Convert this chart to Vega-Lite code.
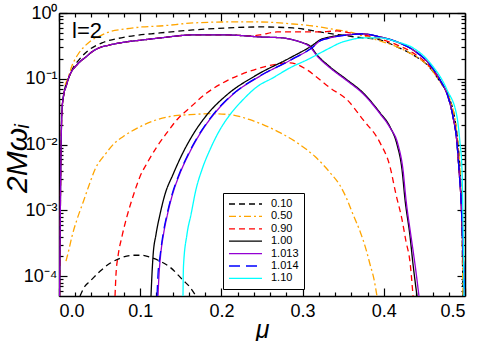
{
  "$schema": "https://vega.github.io/schema/vega-lite/v6.json",
  "width": 406,
  "height": 283,
  "autosize": {"type": "none"},
  "padding": {"left": 59, "top": 13, "right": 15, "bottom": 45},
  "background": "white",
  "config": {
    "view": {"stroke": null},
    "font": "Liberation Sans",
    "axis": {"grid": false, "domainColor": "black", "tickColor": "black", "domainWidth": 1.5, "tickWidth": 1.2, "labelColor": "black", "titleColor": "black", "labelFont": "Liberation Sans", "titleFont": "Liberation Sans"},
    "legend": {"orient": "none", "legendX": 164, "legendY": 180, "symbolType": "M-1,0H5.6", "symbolSize": 100, "labelFontSize": 11, "labelFont": "Liberation Sans", "labelColor": "black", "strokeColor": "black", "fillColor": "white", "padding": 5, "rowPadding": 1.4, "labelOffset": 31, "symbolFillColor": "transparent"}
  },
  "datasets": {
    "curves": [
      {"s":"0.10","b":"a","mu":0.0049,"w":0.0481},{"s":"0.10","b":"a","mu":0.0074,"w":0.073},{"s":"0.10","b":"a","mu":0.0111,"w":0.0965},{"s":"0.10","b":"a","mu":0.016,"w":0.1369},{"s":"0.10","b":"a","mu":0.0246,"w":0.194},{"s":"0.10","b":"a","mu":0.0369,"w":0.275},{"s":"0.10","b":"a","mu":0.053,"w":0.3511},{"s":"0.10","b":"a","mu":0.0825,"w":0.4329},{"s":"0.10","b":"a","mu":0.1244,"w":0.4977},{"s":"0.10","b":"a","mu":0.165,"w":0.5525},{"s":"0.10","b":"a","mu":0.2069,"w":0.5925},{"s":"0.10","b":"a","mu":0.2475,"w":0.6136},{"s":"0.10","b":"a","mu":0.2882,"w":0.5925},{"s":"0.10","b":"a","mu":0.3214,"w":0.5153},{"s":"0.10","b":"a","mu":0.3461,"w":0.4642},{"s":"0.10","b":"a","mu":0.3744,"w":0.418},{"s":"0.10","b":"a","mu":0.3953,"w":0.3899},{"s":"0.10","b":"a","mu":0.4163,"w":0.3053},{"s":"0.10","b":"a","mu":0.436,"w":0.231},{"s":"0.10","b":"a","mu":0.4569,"w":0.1468},{"s":"0.10","b":"a","mu":0.4692,"w":0.0901},{"s":"0.10","b":"a","mu":0.4815,"w":0.0481},{"s":"0.10","b":"a","mu":0.4877,"w":0.0239},{"s":"0.10","b":"a","mu":0.4914,"w":0.01},{"s":"0.10","b":"a","mu":0.4938,"w":0.00418},{"s":"0.10","b":"a","mu":0.4963,"w":0.000515},{"s":"0.10","b":"a","mu":0.4975,"w":0.00005},
      {"s":"0.10","b":"b","mu":0.0259,"w":0.00005},{"s":"0.10","b":"b","mu":0.032,"w":0.0000706},{"s":"0.10","b":"b","mu":0.0382,"w":0.000084},{"s":"0.10","b":"b","mu":0.0505,"w":0.000119},{"s":"0.10","b":"b","mu":0.0628,"w":0.000157},{"s":"0.10","b":"b","mu":0.0751,"w":0.000187},{"s":"0.10","b":"b","mu":0.0911,"w":0.000208},{"s":"0.10","b":"b","mu":0.1022,"w":0.000208},{"s":"0.10","b":"b","mu":0.1121,"w":0.000194},{"s":"0.10","b":"b","mu":0.1244,"w":0.000169},{"s":"0.10","b":"b","mu":0.1367,"w":0.000137},{"s":"0.10","b":"b","mu":0.1527,"w":0.000087},{"s":"0.10","b":"b","mu":0.1613,"w":0.0000681},{"s":"0.10","b":"b","mu":0.1687,"w":0.00005},
      {"s":"0.50","b":"a","mu":0.0074,"w":0.0811},{"s":"0.50","b":"a","mu":0.0111,"w":0.1035},{"s":"0.50","b":"a","mu":0.016,"w":0.1574},{"s":"0.50","b":"a","mu":0.0246,"w":0.2477},{"s":"0.50","b":"a","mu":0.0333,"w":0.3274},{"s":"0.50","b":"a","mu":0.0406,"w":0.3899},{"s":"0.50","b":"a","mu":0.0505,"w":0.4482},{"s":"0.50","b":"a","mu":0.0616,"w":0.5153},{"s":"0.50","b":"a","mu":0.0813,"w":0.572},{"s":"0.50","b":"a","mu":0.1022,"w":0.6136},{"s":"0.50","b":"a","mu":0.1244,"w":0.635},{"s":"0.50","b":"a","mu":0.165,"w":0.7055},{"s":"0.50","b":"a","mu":0.2069,"w":0.7305},{"s":"0.50","b":"a","mu":0.2475,"w":0.7305},{"s":"0.50","b":"a","mu":0.2882,"w":0.681},{"s":"0.50","b":"a","mu":0.3214,"w":0.6136},{"s":"0.50","b":"a","mu":0.3424,"w":0.5525},{"s":"0.50","b":"a","mu":0.3584,"w":0.5153},{"s":"0.50","b":"a","mu":0.3744,"w":0.4482},{"s":"0.50","b":"a","mu":0.3953,"w":0.3765},{"s":"0.50","b":"a","mu":0.4163,"w":0.3053},{"s":"0.50","b":"a","mu":0.436,"w":0.231},{"s":"0.50","b":"a","mu":0.4569,"w":0.1468},{"s":"0.50","b":"a","mu":0.4692,"w":0.0901},{"s":"0.50","b":"a","mu":0.4815,"w":0.0481},{"s":"0.50","b":"a","mu":0.4877,"w":0.0239},{"s":"0.50","b":"a","mu":0.4914,"w":0.01},{"s":"0.50","b":"a","mu":0.4938,"w":0.00418},{"s":"0.50","b":"a","mu":0.4963,"w":0.000515},{"s":"0.50","b":"a","mu":0.4975,"w":0.00005},
      {"s":"0.50","b":"b","mu":0.0086,"w":0.000169},{"s":"0.50","b":"b","mu":0.0123,"w":0.000256},{"s":"0.50","b":"b","mu":0.016,"w":0.000404},{"s":"0.50","b":"b","mu":0.0222,"w":0.00073},{"s":"0.50","b":"b","mu":0.0296,"w":0.00132},{"s":"0.50","b":"b","mu":0.0369,"w":0.00239},{"s":"0.50","b":"b","mu":0.0443,"w":0.00418},{"s":"0.50","b":"b","mu":0.0567,"w":0.00706},{"s":"0.50","b":"b","mu":0.069,"w":0.0107},{"s":"0.50","b":"b","mu":0.0788,"w":0.0132},{"s":"0.50","b":"b","mu":0.0998,"w":0.0187},{"s":"0.50","b":"b","mu":0.1207,"w":0.0239},{"s":"0.50","b":"b","mu":0.1429,"w":0.0275},{"s":"0.50","b":"b","mu":0.1613,"w":0.0285},{"s":"0.50","b":"b","mu":0.186,"w":0.0295},{"s":"0.50","b":"b","mu":0.2106,"w":0.0285},{"s":"0.50","b":"b","mu":0.2352,"w":0.0239},{"s":"0.50","b":"b","mu":0.2512,"w":0.0201},{"s":"0.50","b":"b","mu":0.2722,"w":0.0152},{"s":"0.50","b":"b","mu":0.2931,"w":0.0107},{"s":"0.50","b":"b","mu":0.3153,"w":0.00658},{"s":"0.50","b":"b","mu":0.3337,"w":0.00377},{"s":"0.50","b":"b","mu":0.3461,"w":0.00239},{"s":"0.50","b":"b","mu":0.3547,"w":0.00147},{"s":"0.50","b":"b","mu":0.3621,"w":0.00087},{"s":"0.50","b":"b","mu":0.3707,"w":0.000481},{"s":"0.50","b":"b","mu":0.3781,"w":0.000256},{"s":"0.50","b":"b","mu":0.383,"w":0.000152},{"s":"0.50","b":"b","mu":0.3879,"w":0.0000901},{"s":"0.50","b":"b","mu":0.3916,"w":0.00005},
      {"s":"0.90","b":"a","mu":0.0007,"w":0.00005},{"s":"0.90","b":"a","mu":0.0012,"w":0.000256},{"s":"0.90","b":"a","mu":0.0018,"w":0.00147},{"s":"0.90","b":"a","mu":0.0025,"w":0.0084},{"s":"0.90","b":"a","mu":0.0031,"w":0.0201},{"s":"0.90","b":"a","mu":0.0037,"w":0.0339},{"s":"0.90","b":"a","mu":0.0049,"w":0.0481},{"s":"0.90","b":"a","mu":0.0062,"w":0.0614},{"s":"0.90","b":"a","mu":0.0086,"w":0.0756},{"s":"0.90","b":"a","mu":0.0123,"w":0.1072},{"s":"0.90","b":"a","mu":0.016,"w":0.1322},{"s":"0.90","b":"a","mu":0.0209,"w":0.1574},{"s":"0.90","b":"a","mu":0.0271,"w":0.1874},{"s":"0.90","b":"a","mu":0.0333,"w":0.2154},{"s":"0.90","b":"a","mu":0.0406,"w":0.2565},{"s":"0.90","b":"a","mu":0.0493,"w":0.2949},{"s":"0.90","b":"a","mu":0.0628,"w":0.3274},{"s":"0.90","b":"a","mu":0.0825,"w":0.3636},{"s":"0.90","b":"a","mu":0.1034,"w":0.3899},{"s":"0.90","b":"a","mu":0.1244,"w":0.418},{"s":"0.90","b":"a","mu":0.165,"w":0.4642},{"s":"0.90","b":"a","mu":0.2069,"w":0.4642},{"s":"0.90","b":"a","mu":0.2352,"w":0.4482},{"s":"0.90","b":"a","mu":0.2475,"w":0.4642},{"s":"0.90","b":"a","mu":0.2685,"w":0.5153},{"s":"0.90","b":"a","mu":0.2968,"w":0.5153},{"s":"0.90","b":"a","mu":0.3214,"w":0.5153},{"s":"0.90","b":"a","mu":0.3424,"w":0.5336},{"s":"0.90","b":"a","mu":0.3584,"w":0.4977},{"s":"0.90","b":"a","mu":0.3744,"w":0.4642},{"s":"0.90","b":"a","mu":0.3953,"w":0.4037},{"s":"0.90","b":"a","mu":0.4163,"w":0.3274},{"s":"0.90","b":"a","mu":0.436,"w":0.2477},{"s":"0.90","b":"a","mu":0.4569,"w":0.152},{"s":"0.90","b":"a","mu":0.4692,"w":0.0933},{"s":"0.90","b":"a","mu":0.4791,"w":0.0534},{"s":"0.90","b":"a","mu":0.4852,"w":0.0266},{"s":"0.90","b":"a","mu":0.4901,"w":0.0107},{"s":"0.90","b":"a","mu":0.4926,"w":0.00418},{"s":"0.90","b":"a","mu":0.4951,"w":0.00147},{"s":"0.90","b":"a","mu":0.4975,"w":0.000256},{"s":"0.90","b":"a","mu":0.4988,"w":0.00005},
      {"s":"0.90","b":"b","mu":0.069,"w":0.00005},{"s":"0.90","b":"b","mu":0.0702,"w":0.000107},{"s":"0.90","b":"b","mu":0.0727,"w":0.000201},{"s":"0.90","b":"b","mu":0.0776,"w":0.000404},{"s":"0.90","b":"b","mu":0.0837,"w":0.00081},{"s":"0.90","b":"b","mu":0.0911,"w":0.00163},{"s":"0.90","b":"b","mu":0.0998,"w":0.00327},{"s":"0.90","b":"b","mu":0.1096,"w":0.00553},{"s":"0.90","b":"b","mu":0.1207,"w":0.00933},{"s":"0.90","b":"b","mu":0.133,"w":0.0152},{"s":"0.90","b":"b","mu":0.1453,"w":0.0239},{"s":"0.90","b":"b","mu":0.1613,"w":0.0364},{"s":"0.90","b":"b","mu":0.1823,"w":0.0614},{"s":"0.90","b":"b","mu":0.202,"w":0.087},{"s":"0.90","b":"b","mu":0.2229,"w":0.115},{"s":"0.90","b":"b","mu":0.2438,"w":0.1418},{"s":"0.90","b":"b","mu":0.2635,"w":0.163},{"s":"0.90","b":"b","mu":0.2845,"w":0.1748},{"s":"0.90","b":"b","mu":0.3054,"w":0.1369},{"s":"0.90","b":"b","mu":0.3214,"w":0.0965},{"s":"0.90","b":"b","mu":0.3337,"w":0.073},{"s":"0.90","b":"b","mu":0.3547,"w":0.0481},{"s":"0.90","b":"b","mu":0.3744,"w":0.0239},{"s":"0.90","b":"b","mu":0.3953,"w":0.0107},{"s":"0.90","b":"b","mu":0.4076,"w":0.00464},{"s":"0.90","b":"b","mu":0.415,"w":0.00175},{"s":"0.90","b":"b","mu":0.4224,"w":0.00073},{"s":"0.90","b":"b","mu":0.4273,"w":0.000339},{"s":"0.90","b":"b","mu":0.4323,"w":0.000163},{"s":"0.90","b":"b","mu":0.436,"w":0.00005},
      {"s":"1.00","b":"a","mu":0.0007,"w":0.00005},{"s":"1.00","b":"a","mu":0.0012,"w":0.000256},{"s":"1.00","b":"a","mu":0.0018,"w":0.00147},{"s":"1.00","b":"a","mu":0.0025,"w":0.0084},{"s":"1.00","b":"a","mu":0.0031,"w":0.0201},{"s":"1.00","b":"a","mu":0.0037,"w":0.0339},{"s":"1.00","b":"a","mu":0.0049,"w":0.0481},{"s":"1.00","b":"a","mu":0.0062,"w":0.0614},{"s":"1.00","b":"a","mu":0.0086,"w":0.0756},{"s":"1.00","b":"a","mu":0.0123,"w":0.1072},{"s":"1.00","b":"a","mu":0.016,"w":0.1322},{"s":"1.00","b":"a","mu":0.0209,"w":0.1574},{"s":"1.00","b":"a","mu":0.0271,"w":0.1874},{"s":"1.00","b":"a","mu":0.0333,"w":0.2154},{"s":"1.00","b":"a","mu":0.0406,"w":0.2565},{"s":"1.00","b":"a","mu":0.0493,"w":0.2949},{"s":"1.00","b":"a","mu":0.0628,"w":0.3274},{"s":"1.00","b":"a","mu":0.0825,"w":0.3636},{"s":"1.00","b":"a","mu":0.1034,"w":0.3899},{"s":"1.00","b":"a","mu":0.1244,"w":0.418},{"s":"1.00","b":"a","mu":0.165,"w":0.4642},{"s":"1.00","b":"a","mu":0.2069,"w":0.4642},{"s":"1.00","b":"a","mu":0.2475,"w":0.4329},{"s":"1.00","b":"a","mu":0.2759,"w":0.418},{"s":"1.00","b":"a","mu":0.2882,"w":0.3899},{"s":"1.00","b":"a","mu":0.3005,"w":0.3511},{"s":"1.00","b":"a","mu":0.3091,"w":0.3162},{"s":"1.00","b":"a","mu":0.3177,"w":0.231},{"s":"1.00","b":"a","mu":0.3337,"w":0.152},{"s":"1.00","b":"a","mu":0.3547,"w":0.0965},{"s":"1.00","b":"a","mu":0.3744,"w":0.0614},{"s":"1.00","b":"a","mu":0.3953,"w":0.0305},{"s":"1.00","b":"a","mu":0.4076,"w":0.0187},{"s":"1.00","b":"a","mu":0.4163,"w":0.01},{"s":"1.00","b":"a","mu":0.4224,"w":0.00418},{"s":"1.00","b":"a","mu":0.4261,"w":0.00147},{"s":"1.00","b":"a","mu":0.4323,"w":0.000404},{"s":"1.00","b":"a","mu":0.436,"w":0.000152},{"s":"1.00","b":"a","mu":0.4409,"w":0.00005},
      {"s":"1.00","b":"b","mu":0.1133,"w":0.00005},{"s":"1.00","b":"b","mu":0.1145,"w":0.000107},{"s":"1.00","b":"b","mu":0.1158,"w":0.000201},{"s":"1.00","b":"b","mu":0.1195,"w":0.000433},{"s":"1.00","b":"b","mu":0.1244,"w":0.00087},{"s":"1.00","b":"b","mu":0.1305,"w":0.00175},{"s":"1.00","b":"b","mu":0.1404,"w":0.00351},{"s":"1.00","b":"b","mu":0.1515,"w":0.00706},{"s":"1.00","b":"b","mu":0.165,"w":0.0142},{"s":"1.00","b":"b","mu":0.1823,"w":0.0285},{"s":"1.00","b":"b","mu":0.2069,"w":0.0572},{"s":"1.00","b":"b","mu":0.2438,"w":0.115},{"s":"1.00","b":"b","mu":0.2845,"w":0.208},{"s":"1.00","b":"b","mu":0.3128,"w":0.3274},{"s":"1.00","b":"b","mu":0.3214,"w":0.3899},{"s":"1.00","b":"b","mu":0.3337,"w":0.4329},{"s":"1.00","b":"b","mu":0.3547,"w":0.4642},{"s":"1.00","b":"b","mu":0.3744,"w":0.4806},{"s":"1.00","b":"b","mu":0.3953,"w":0.4329},{"s":"1.00","b":"b","mu":0.4163,"w":0.3636},{"s":"1.00","b":"b","mu":0.436,"w":0.275},{"s":"1.00","b":"b","mu":0.4569,"w":0.163},{"s":"1.00","b":"b","mu":0.4692,"w":0.0965},{"s":"1.00","b":"b","mu":0.4791,"w":0.0534},{"s":"1.00","b":"b","mu":0.4852,"w":0.0266},{"s":"1.00","b":"b","mu":0.4901,"w":0.0107},{"s":"1.00","b":"b","mu":0.4926,"w":0.00418},{"s":"1.00","b":"b","mu":0.4951,"w":0.00147},{"s":"1.00","b":"b","mu":0.4975,"w":0.000256},{"s":"1.00","b":"b","mu":0.5,"w":0.00005},
      {"s":"1.013","b":"a","mu":0.0007,"w":0.00005},{"s":"1.013","b":"a","mu":0.0012,"w":0.000256},{"s":"1.013","b":"a","mu":0.0018,"w":0.00147},{"s":"1.013","b":"a","mu":0.0025,"w":0.0084},{"s":"1.013","b":"a","mu":0.0031,"w":0.0201},{"s":"1.013","b":"a","mu":0.0037,"w":0.0339},{"s":"1.013","b":"a","mu":0.0049,"w":0.0481},{"s":"1.013","b":"a","mu":0.0062,"w":0.0614},{"s":"1.013","b":"a","mu":0.0086,"w":0.0756},{"s":"1.013","b":"a","mu":0.0123,"w":0.1072},{"s":"1.013","b":"a","mu":0.016,"w":0.1322},{"s":"1.013","b":"a","mu":0.0209,"w":0.1574},{"s":"1.013","b":"a","mu":0.0271,"w":0.1874},{"s":"1.013","b":"a","mu":0.0333,"w":0.2154},{"s":"1.013","b":"a","mu":0.0406,"w":0.2565},{"s":"1.013","b":"a","mu":0.0493,"w":0.2949},{"s":"1.013","b":"a","mu":0.0628,"w":0.3274},{"s":"1.013","b":"a","mu":0.0825,"w":0.3636},{"s":"1.013","b":"a","mu":0.1034,"w":0.3899},{"s":"1.013","b":"a","mu":0.1244,"w":0.418},{"s":"1.013","b":"a","mu":0.165,"w":0.4642},{"s":"1.013","b":"a","mu":0.2069,"w":0.4642},{"s":"1.013","b":"a","mu":0.2475,"w":0.4329},{"s":"1.013","b":"a","mu":0.2759,"w":0.418},{"s":"1.013","b":"a","mu":0.2882,"w":0.3899},{"s":"1.013","b":"a","mu":0.3005,"w":0.3511},{"s":"1.013","b":"a","mu":0.3091,"w":0.3053},{"s":"1.013","b":"a","mu":0.3177,"w":0.2231},{"s":"1.013","b":"a","mu":0.3337,"w":0.1468},{"s":"1.013","b":"a","mu":0.3547,"w":0.0933},{"s":"1.013","b":"a","mu":0.3744,"w":0.0593},{"s":"1.013","b":"a","mu":0.3953,"w":0.0295},{"s":"1.013","b":"a","mu":0.4076,"w":0.0181},{"s":"1.013","b":"a","mu":0.4175,"w":0.01},{"s":"1.013","b":"a","mu":0.4236,"w":0.00418},{"s":"1.013","b":"a","mu":0.4273,"w":0.00147},{"s":"1.013","b":"a","mu":0.4335,"w":0.000404},{"s":"1.013","b":"a","mu":0.4384,"w":0.000152},{"s":"1.013","b":"a","mu":0.4433,"w":0.00005},
      {"s":"1.013","b":"b","mu":0.1219,"w":0.00005},{"s":"1.013","b":"b","mu":0.1232,"w":0.000107},{"s":"1.013","b":"b","mu":0.125,"w":0.000201},{"s":"1.013","b":"b","mu":0.1287,"w":0.000433},{"s":"1.013","b":"b","mu":0.1336,"w":0.00087},{"s":"1.013","b":"b","mu":0.1398,"w":0.00175},{"s":"1.013","b":"b","mu":0.1484,"w":0.00351},{"s":"1.013","b":"b","mu":0.1595,"w":0.00706},{"s":"1.013","b":"b","mu":0.173,"w":0.0142},{"s":"1.013","b":"b","mu":0.1903,"w":0.0285},{"s":"1.013","b":"b","mu":0.2137,"w":0.0572},{"s":"1.013","b":"b","mu":0.2482,"w":0.111},{"s":"1.013","b":"b","mu":0.2857,"w":0.194},{"s":"1.013","b":"b","mu":0.3128,"w":0.3053},{"s":"1.013","b":"b","mu":0.3214,"w":0.3765},{"s":"1.013","b":"b","mu":0.3337,"w":0.418},{"s":"1.013","b":"b","mu":0.3547,"w":0.4642},{"s":"1.013","b":"b","mu":0.3744,"w":0.4806},{"s":"1.013","b":"b","mu":0.3953,"w":0.4329},{"s":"1.013","b":"b","mu":0.4163,"w":0.3636},{"s":"1.013","b":"b","mu":0.436,"w":0.275},{"s":"1.013","b":"b","mu":0.4569,"w":0.163},{"s":"1.013","b":"b","mu":0.4692,"w":0.0965},{"s":"1.013","b":"b","mu":0.4791,"w":0.0534},{"s":"1.013","b":"b","mu":0.4852,"w":0.0266},{"s":"1.013","b":"b","mu":0.4901,"w":0.0107},{"s":"1.013","b":"b","mu":0.4926,"w":0.00418},{"s":"1.013","b":"b","mu":0.4951,"w":0.00147},{"s":"1.013","b":"b","mu":0.4975,"w":0.000256},{"s":"1.013","b":"b","mu":0.5,"w":0.00005},
      {"s":"1.014","b":"a","mu":0.1207,"w":0.00005},{"s":"1.014","b":"a","mu":0.1219,"w":0.000107},{"s":"1.014","b":"a","mu":0.1244,"w":0.000201},{"s":"1.014","b":"a","mu":0.1281,"w":0.000433},{"s":"1.014","b":"a","mu":0.133,"w":0.00087},{"s":"1.014","b":"a","mu":0.1392,"w":0.00175},{"s":"1.014","b":"a","mu":0.1478,"w":0.00351},{"s":"1.014","b":"a","mu":0.1589,"w":0.00706},{"s":"1.014","b":"a","mu":0.1724,"w":0.0142},{"s":"1.014","b":"a","mu":0.1897,"w":0.0285},{"s":"1.014","b":"a","mu":0.2131,"w":0.0572},{"s":"1.014","b":"a","mu":0.2475,"w":0.111},{"s":"1.014","b":"a","mu":0.2857,"w":0.194},{"s":"1.014","b":"a","mu":0.3128,"w":0.3053},{"s":"1.014","b":"a","mu":0.3214,"w":0.3765},{"s":"1.014","b":"a","mu":0.3337,"w":0.418},{"s":"1.014","b":"a","mu":0.3547,"w":0.4642},{"s":"1.014","b":"a","mu":0.3744,"w":0.4806},{"s":"1.014","b":"a","mu":0.3953,"w":0.4329},{"s":"1.014","b":"a","mu":0.4163,"w":0.3636},{"s":"1.014","b":"a","mu":0.436,"w":0.275},{"s":"1.014","b":"a","mu":0.4569,"w":0.163},{"s":"1.014","b":"a","mu":0.4692,"w":0.0965},{"s":"1.014","b":"a","mu":0.4791,"w":0.0534},{"s":"1.014","b":"a","mu":0.4852,"w":0.0266},{"s":"1.014","b":"a","mu":0.4901,"w":0.0107},{"s":"1.014","b":"a","mu":0.4926,"w":0.00418},{"s":"1.014","b":"a","mu":0.4951,"w":0.00147},{"s":"1.014","b":"a","mu":0.4975,"w":0.000256},{"s":"1.014","b":"a","mu":0.5,"w":0.00005},
      {"s":"1.10","b":"a","mu":0.1527,"w":0.00005},{"s":"1.10","b":"a","mu":0.1533,"w":0.000142},{"s":"1.10","b":"a","mu":0.1576,"w":0.000433},{"s":"1.10","b":"a","mu":0.1626,"w":0.00087},{"s":"1.10","b":"a","mu":0.1687,"w":0.00208},{"s":"1.10","b":"a","mu":0.1761,"w":0.00418},{"s":"1.10","b":"a","mu":0.186,"w":0.0084},{"s":"1.10","b":"a","mu":0.1983,"w":0.0169},{"s":"1.10","b":"a","mu":0.2106,"w":0.0285},{"s":"1.10","b":"a","mu":0.2266,"w":0.0481},{"s":"1.10","b":"a","mu":0.2438,"w":0.0756},{"s":"1.10","b":"a","mu":0.2635,"w":0.1035},{"s":"1.10","b":"a","mu":0.2845,"w":0.1468},{"s":"1.10","b":"a","mu":0.3054,"w":0.194},{"s":"1.10","b":"a","mu":0.3337,"w":0.2949},{"s":"1.10","b":"a","mu":0.3461,"w":0.3511},{"s":"1.10","b":"a","mu":0.3584,"w":0.3899},{"s":"1.10","b":"a","mu":0.3744,"w":0.418},{"s":"1.10","b":"a","mu":0.3953,"w":0.418},{"s":"1.10","b":"a","mu":0.4163,"w":0.3636},{"s":"1.10","b":"a","mu":0.436,"w":0.2949},{"s":"1.10","b":"a","mu":0.4569,"w":0.1748},{"s":"1.10","b":"a","mu":0.4778,"w":0.0681},{"s":"1.10","b":"a","mu":0.4901,"w":0.0266},{"s":"1.10","b":"a","mu":0.4938,"w":0.0107},{"s":"1.10","b":"a","mu":0.4963,"w":0.00418},{"s":"1.10","b":"a","mu":0.4975,"w":0.00073},{"s":"1.10","b":"a","mu":0.4988,"w":0.00005}
    ],
    "ann": [{"mu": 0.016, "w": 0.418, "t": "l=2"}]
  },
  "resolve": {"axis": {"x": "independent", "y": "independent"}},
  "layer": [
    {
      "data": {"name": "curves"},
      "mark": {"type": "line", "clip": true, "strokeCap": "butt", "strokeJoin": "round", "interpolate": "monotone"},
      "encoding": {
        "x": {"field": "mu", "type": "quantitative", "scale": {"domain": [0, 0.5], "nice": false, "zero": false},
          "axis": {"orient": "bottom", "values": [0, 0.1, 0.2, 0.3, 0.4, 0.5], "format": ".1f", "tickSize": -8, "labelPadding": 14, "labelFontSize": 18, "title": "μ", "titleFontSize": 25, "titleFontStyle": "italic", "titleFontWeight": "normal", "titleY": 41, "titleBaseline": "alphabetic"}},
        "y": {"field": "w", "type": "quantitative", "scale": {"type": "log", "domain": [0.00005, 1], "nice": false},
          "axis": {"orient": "left", "values": [0.0001, 0.001, 0.01, 0.1, 1], "tickSize": -8, "labelPadding": 10, "labelFontSize": 18,
            "labelExpr": "datum.value > 0.5 ? '10⁰' : datum.value > 0.05 ? '10⁻¹' : datum.value > 0.005 ? '10⁻²' : datum.value > 0.0005 ? '10⁻³' : '10⁻⁴'",
            "title": "2Mωᵢ", "titleFontSize": 30, "titleFontStyle": "italic", "titleFontWeight": "normal", "titleAngle": 270, "titleX": -33, "titleY": 145, "titleBaseline": "alphabetic", "titleAlign": "center"}},
        "color": {"field": "s", "type": "nominal",
          "scale": {"domain": ["0.10", "0.50", "0.90", "1.00", "1.013", "1.014", "1.10"], "range": ["#000000", "#ffa500", "#ff0000", "#000000", "#9400d3", "#0000ff", "#00ffff"]},
          "legend": {"title": null}},
        "strokeDash": {"field": "s", "type": "nominal",
          "scale": {"domain": ["0.10", "0.50", "0.90", "1.00", "1.013", "1.014", "1.10"], "range": [[6, 4], [7, 3, 2, 3], [6, 4], [1, 0], [1, 0], [11, 6], [1, 0]]},
          "legend": {"title": null}},
        "strokeWidth": {"field": "s", "type": "nominal",
          "scale": {"domain": ["0.10", "0.50", "0.90", "1.00", "1.013", "1.014", "1.10"], "range": [1.3, 1.3, 1.3, 1.6, 2.2, 3, 1.3]},
          "legend": {"title": null}},
        "detail": {"field": "b", "type": "nominal"}
      }
    },
    {
      "data": {"name": "ann"},
      "mark": {"type": "text", "align": "left", "baseline": "alphabetic", "fontSize": 22, "font": "Liberation Sans", "color": "black"},
      "encoding": {
        "x": {"field": "mu", "type": "quantitative", "scale": {"domain": [0, 0.5], "nice": false, "zero": false}, "axis": {"orient": "top", "values": [0, 0.1, 0.2, 0.3, 0.4, 0.5], "tickSize": -8, "labels": false, "title": null}},
        "y": {"field": "w", "type": "quantitative", "scale": {"type": "log", "domain": [0.00005, 1], "nice": false}, "axis": {"orient": "right", "values": [0.0001, 0.001, 0.01, 0.1, 1], "tickSize": -8, "labels": false, "title": null}},
        "text": {"field": "t"}
      }
    },
    {
      "data": {"name": "ann"},
      "mark": {"type": "text", "opacity": 0},
      "encoding": {
        "x": {"field": "mu", "type": "quantitative", "scale": {"domain": [0, 0.5], "nice": false, "zero": false}, "axis": {"orient": "bottom", "values": [0.02, 0.04, 0.06, 0.08, 0.12, 0.14, 0.16, 0.18, 0.22, 0.24, 0.26, 0.28, 0.32, 0.34, 0.36, 0.38, 0.42, 0.44, 0.46, 0.48], "tickSize": -4, "labels": false, "domain": false, "title": null}},
        "y": {"field": "w", "type": "quantitative", "scale": {"type": "log", "domain": [0.00005, 1], "nice": false}, "axis": {"orient": "left", "values": [0.00006, 0.00007, 0.00008, 0.00009, 0.0002, 0.0003, 0.0004, 0.0005, 0.0006, 0.0007, 0.0008, 0.0009, 0.002, 0.003, 0.004, 0.005, 0.006, 0.007, 0.008, 0.009, 0.02, 0.03, 0.04, 0.05, 0.06, 0.07, 0.08, 0.09, 0.2, 0.3, 0.4, 0.5, 0.6, 0.7, 0.8, 0.9], "tickSize": -4, "labels": false, "domain": false, "title": null}},
        "text": {"field": "t"}
      }
    },
    {
      "data": {"name": "ann"},
      "mark": {"type": "text", "opacity": 0},
      "encoding": {
        "x": {"field": "mu", "type": "quantitative", "scale": {"domain": [0, 0.5], "nice": false, "zero": false}, "axis": {"orient": "top", "values": [0.02, 0.04, 0.06, 0.08, 0.12, 0.14, 0.16, 0.18, 0.22, 0.24, 0.26, 0.28, 0.32, 0.34, 0.36, 0.38, 0.42, 0.44, 0.46, 0.48], "tickSize": -4, "labels": false, "domain": false, "title": null}},
        "y": {"field": "w", "type": "quantitative", "scale": {"type": "log", "domain": [0.00005, 1], "nice": false}, "axis": {"orient": "right", "values": [0.00006, 0.00007, 0.00008, 0.00009, 0.0002, 0.0003, 0.0004, 0.0005, 0.0006, 0.0007, 0.0008, 0.0009, 0.002, 0.003, 0.004, 0.005, 0.006, 0.007, 0.008, 0.009, 0.02, 0.03, 0.04, 0.05, 0.06, 0.07, 0.08, 0.09, 0.2, 0.3, 0.4, 0.5, 0.6, 0.7, 0.8, 0.9], "tickSize": -4, "labels": false, "domain": false, "title": null}},
        "text": {"field": "t"}
      }
    }
  ]
}
